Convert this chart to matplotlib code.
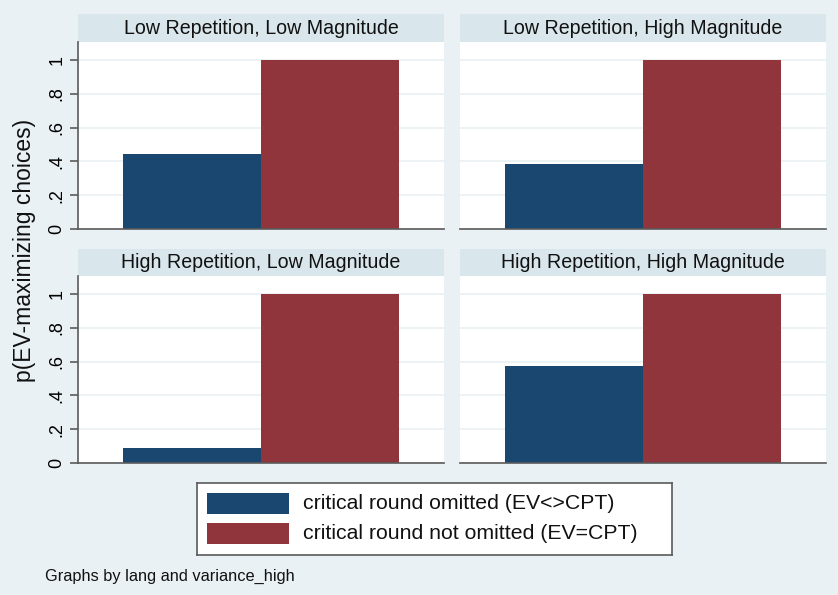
#!/usr/bin/env python3

import matplotlib
matplotlib.use("Agg")
import matplotlib.pyplot as plt
from matplotlib.patches import Rectangle

# panel titles and values
panel_titles = ["Low Repetition, Low Magnitude", "Low Repetition, High Magnitude",
                "High Repetition, Low Magnitude", "High Repetition, High Magnitude"]
omitted = [0.444, 0.385, 0.089, 0.574]
not_omitted = [1.0, 1.0, 1.0, 1.0]
series_labels = ["critical round omitted (EV<>CPT)", "critical round not omitted (EV=CPT)"]
yticks = [0, 0.2, 0.4, 0.6, 0.8, 1.0]
ytick_labels = ["0", ".2", ".4", ".6", ".8", "1"]

BG = "#EAF1F4"
STRIP = "#D9E6EC"
BLUE = "#1A476F"
RED = "#90353B"
AXIS = "#5a5a5a"

plt.rcParams['font.family'] = ['Liberation Sans', 'DejaVu Sans']

W, H = 838, 595
fig = plt.figure(figsize=(W / 100, H / 100), dpi=100, facecolor=BG)


def px_axes(x0, y0, x1, y1):
    # rectangle given in pixel coordinates (origin top-left)
    return fig.add_axes([x0 / W, 1 - y1 / H, (x1 - x0) / W, (y1 - y0) / H])


panels = [(78, 444, 14, 42, 229), (460, 826, 14, 42, 229),
          (78, 444, 249, 276, 463), (460, 826, 249, 276, 463)]

for i, (x0, x1, s0, s1, yb) in enumerate(panels):
    # title strip
    st = px_axes(x0, s0, x1, s1)
    st.set_facecolor(STRIP)
    st.set_xticks([])
    st.set_yticks([])
    for sp in st.spines.values():
        sp.set_visible(False)
    st.text(0.5, 0.5, panel_titles[i], ha="center", va="center", fontsize=14.1,
            color="#111111", transform=st.transAxes)

    ax = px_axes(x0, s1, x1, yb)
    ax.set_facecolor("white")
    ax.bar([0], [omitted[i]], width=1, color=BLUE, zorder=2)
    ax.bar([1], [not_omitted[i]], width=1, color=RED, zorder=2)
    ax.set_xlim(-0.83, 1.83)
    ax.set_ylim(0, 1.107)
    ax.set_yticks(yticks)
    ax.grid(axis="y", color=BG, linewidth=1.2, zorder=0)
    ax.set_xticks([])
    for sp in ["top", "right"]:
        ax.spines[sp].set_visible(False)
    ax.spines["bottom"].set_color(AXIS)
    ax.spines["bottom"].set_linewidth(1.2)
    ax.spines["bottom"].set_zorder(3)
    if i % 2 == 0:
        ax.spines["left"].set_color(AXIS)
        ax.spines["left"].set_linewidth(1.2)
        ax.set_yticklabels(ytick_labels, rotation=90, va="center", fontsize=13)
        ax.tick_params(axis="y", length=6, width=1.2, color=AXIS, pad=3)
    else:
        ax.spines["left"].set_visible(False)
        ax.tick_params(axis="y", length=0, labelleft=False)

# shared y label
fig.text(25 / W, 1 - 250 / H, "p(EV-maximizing choices)", rotation=90,
         ha="center", va="center", fontsize=16.5, color="#111111")

# legend box
lg = px_axes(197, 483, 672, 555)
lg.set_facecolor("white")
lg.set_xlim(0, 475)
lg.set_ylim(72, 0)
lg.set_xticks([])
lg.set_yticks([])
for sp in lg.spines.values():
    sp.set_color(AXIS)
    sp.set_linewidth(1.2)
for k, (lab, col) in enumerate(zip(series_labels, [BLUE, RED])):
    top = 10 + k * 30
    lg.add_patch(Rectangle((10, top), 82, 21, facecolor=col, edgecolor="none"))
    lg.text(106, top + 10.5, lab, ha="left", va="center", fontsize=15.3, color="#111111")

fig.text(45 / W, 1 - 576 / H, "Graphs by lang and variance_high", ha="left",
         va="center", fontsize=11.8, color="#111111")

fig.savefig("out.png", dpi=100, facecolor=BG)
